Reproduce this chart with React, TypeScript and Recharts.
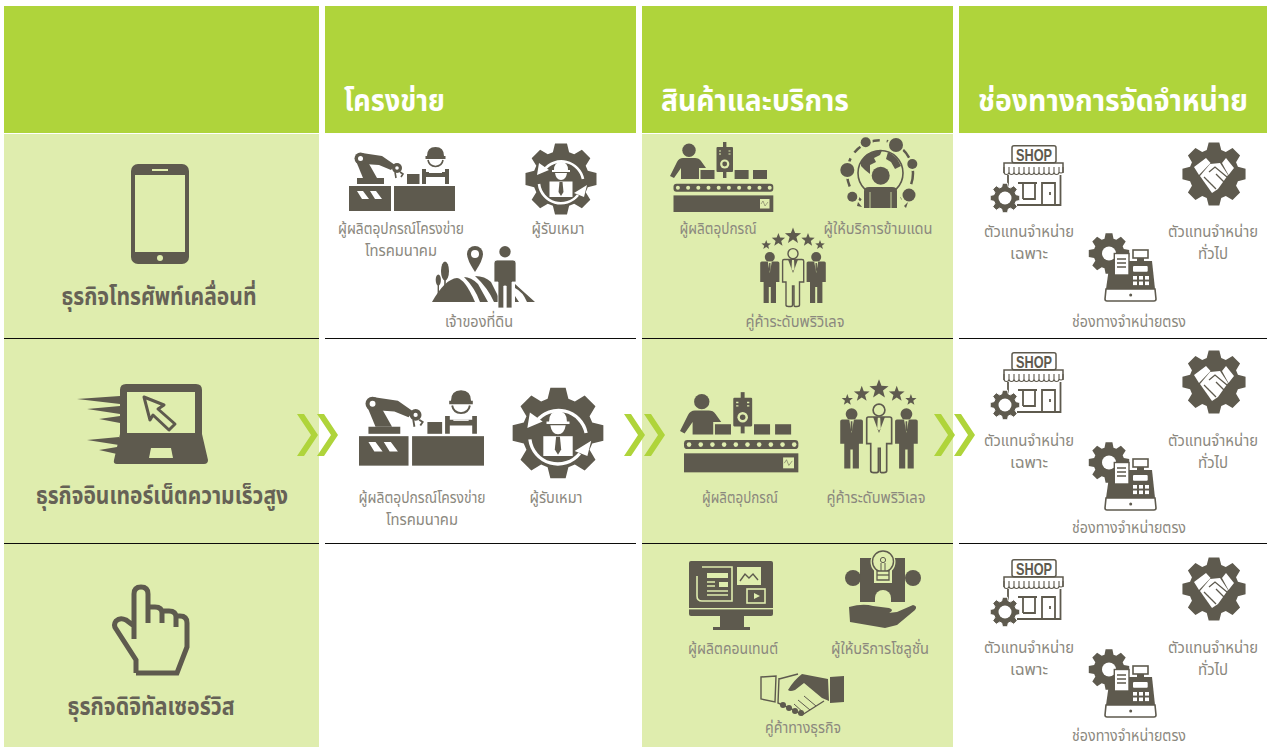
import { ReferenceArea, ReferenceLine, Scatter, ScatterChart, XAxis, YAxis } from "recharts";

const columnTitles = ["โครงข่าย", "สินค้าและบริการ", "ช่องทางการจัดจำหน่าย"];
const businessTitles = ["ธุรกิจโทรศัพท์เคลื่อนที่", "ธุรกิจอินเทอร์เน็ตความเร็วสูง", "ธุรกิจดิจิทัลเซอร์วิส"];
const networkLabels = ["ผู้ผลิตอุปกรณ์โครงข่าย", "โทรคมนาคม", "ผู้รับเหมา", "เจ้าของที่ดิน"];
const productLabels = ["ผู้ผลิตอุปกรณ์", "ผู้ให้บริการข้ามแดน", "คู่ค้าระดับพริวิเลจ", "ผู้ผลิตคอนเทนต์", "ผู้ให้บริการโซลูชั่น", "คู่ค้าทางธุรกิจ"];
const channelLabels = ["ตัวแทนจำหน่าย", "เฉพาะ", "ทั่วไป", "ช่องทางจำหน่ายตรง"];

const W = 1267;
const H = 747;
const DARK = "#5E5A4E";
const GREEN = "#AFD43B";
const LIGHT = "#DFEDAE";
const GREY = "#8B887E";

const columns = [[4, 319], [325, 636], [642, 953], [959, 1267]];
const bgAt = (x: number) => ((x < 320 || (x > 640 && x < 954)) ? LIGHT : "#FFFFFF");

const gearPath = (cx: number, cy: number, R: number, r: number, n: number) => {
  const pts: string[] = [];
  const step = (Math.PI * 2) / n;
  for (let i = 0; i < n; i++) {
    const a = i * step - Math.PI / 2;
    [[-0.3, r], [-0.17, R], [0.17, R], [0.3, r]].forEach(([o, rad]) => {
      pts.push(`${cx + rad * Math.cos(a + o * step * 1.25)} ${cy + rad * Math.sin(a + o * step * 1.25)}`);
    });
  }
  return `M${pts.join("L")}Z`;
};

const starPath = (cx: number, cy: number, r: number) => {
  const pts: string[] = [];
  for (let i = 0; i < 10; i++) {
    const a = (i * Math.PI) / 5 - Math.PI / 2;
    const rad = i % 2 ? r * 0.42 : r;
    pts.push(`${cx + rad * Math.cos(a)} ${cy + rad * Math.sin(a)}`);
  }
  return `M${pts.join("L")}Z`;
};

const iconArt: Record<string, { w: number; draw: (bg: string) => any }> = {
  phone: {
    w: 58,
    draw: (bg) => (
      <g>
        <rect width={58} height={100} rx={7} fill={DARK} />
        <rect x={4} y={11} width={50} height={77} fill={bg} />
        <rect x={21} y={5} width={16} height={2} fill={bg} />
        <circle cx={29} cy={94} r={3} fill={bg} />
      </g>
    ),
  },
  laptop: {
    w: 131,
    draw: (bg) => (
      <g>
        <path d="M43 6Q43 0 49 0H119Q125 0 125 6V50L131 76Q131 80 127 80H40Q36 80 37 76L43 50Z" fill={DARK} />
        <rect x={50} y={8} width={68} height={41} fill={bg} />
        <path d="M74 64H94L96 74H72Z" fill={bg} />
        <path d="M0 15L43 12V20ZM10 25L43 22V30ZM22 35L43 32V39ZM10 56L42 53V61ZM22 66L40 63V70Z" fill={DARK} />
        <path d="M67 13L87 21L81 25L98 40L92 46L76 31L73 36Z" fill={bg} stroke={DARK} strokeWidth={3} strokeLinejoin="round" />
      </g>
    ),
  },
  hand: {
    w: 77,
    draw: () => (
      <path
        d="M24 88L65 88L75 62V38Q75 31 68 31H64M64 42V32Q64 26 57 26H50M50 38V28Q50 22 43 22H36M36 38V9Q36 2 29 2Q22 2 22 9V54M22 41L14 35Q8 32 4 36Q1 40 4 44L24 75V88"
        fill="none"
        stroke={DARK}
        strokeWidth={5}
      />
    ),
  },
  robot: {
    w: 106,
    draw: (bg) => (
      <g>
        <rect y={40} width={42} height={25} fill={DARK} />
        <rect x={45} y={40} width={61} height={25} fill={DARK} />
        <path d="M8 45H14L20 53H13ZM21 45H27L33 53H26Z" fill={bg} />
        <rect x={8} y={32} width={27} height={6} fill={DARK} />
        <path d="M14 32L7 15L15 9L28 32Z" fill={DARK} />
        <path d="M13 7L33 10L46 19L42 24L30 19L15 18Z" fill={DARK} />
        <circle cx={11.5} cy={12.5} r={6} fill={DARK} />
        <circle cx={11.5} cy={12.5} r={2.5} fill={bg} />
        <circle cx={48} cy={22} r={5} fill={DARK} />
        <circle cx={48} cy={22} r={1.8} fill={bg} />
        <path d="M46 26L47 32M51 26L54 28L52 31" fill="none" stroke={DARK} strokeWidth={1.6} />
        <rect x={58} y={28} width={12.5} height={10} fill={DARK} />
        <path d="M78 10Q78 1 86.5 1Q95 1 95 10H96.5V13H76.5V10Z" fill={DARK} />
        <path d="M79 14Q80 20 86.5 20.5Q93 20 94 14" fill="none" stroke={DARK} strokeWidth={1.6} />
        <path d="M73 23H77V26H96V23H100V38H96V31H77V38H73Z" fill={DARK} />
        <rect x={80} y={26} width={13} height={1} fill={bg} />
      </g>
    ),
  },
  contractor: {
    w: 72,
    draw: (bg) => (
      <g>
        <path d={gearPath(36, 36, 36, 28, 8)} fill={DARK} />
        <path d="M19 27A22 22 0 0 1 58 36M14 41A22 22 0 0 0 53 52" fill="none" stroke={bg} strokeWidth={2.6} />
        <path d="M12 32L14 20L24 27ZM62 42L59 54L49 50Z" fill={bg} />
        <path d="M29 27Q29 19 36 19Q43 19 43 27H45V29H27V27Z" fill={bg} />
        <path d="M30 30H42Q41 37 36 37Q31 37 30 30Z" fill={bg} />
        <rect x={24.5} y={38.5} width={23} height={15.5} fill={bg} />
        <path d="M34.5 39H37.5L38.5 49L36 53L33.5 49Z" fill={DARK} />
      </g>
    ),
  },
  land: {
    w: 104,
    draw: (bg) => (
      <g>
        <path d="M1 56Q14 33 26 32Q34 33 44 56Z" fill={DARK} />
        <path d="M33 31Q40 31 47 38L57 56H49Q44 42 33 31Z" fill={DARK} />
        <path d="M44 30Q54 30 60 36L70 56H63Q57 42 44 30Z" fill={DARK} />
        <path d="M84 38L104 56H96Q92 46 84 42ZM84 50L88 56H84Z" fill={DARK} />
        <ellipse cx={14} cy={25} rx={4} ry={9.5} fill={DARK} />
        <rect x={13.2} y={30} width={1.6} height={15} fill={DARK} />
        <ellipse cx={7.3} cy={34} rx={2.6} ry={5.5} fill={DARK} />
        <rect x={6.6} y={36} width={1.4} height={13} fill={DARK} />
        <path d="M44 0A8 8 0 0 1 52 8Q52 14 44 26Q36 14 36 8A8 8 0 0 1 44 0Z" fill={DARK} />
        <circle cx={44} cy={8} r={4} fill={bg} />
        <circle cx={74} cy={5.7} r={5.7} fill={DARK} />
        <path d="M63 17Q63 14 66 14H82Q85 14 85 17V36H81V62H75.2V40H72.8V62H67V36H63Z" fill={DARK} stroke={bg} strokeWidth={0.8} />
      </g>
    ),
  },
  maker: {
    w: 103,
    draw: (bg) => (
      <g>
        <circle cx={19} cy={9.3} r={6.7} fill={DARK} />
        <path d="M0 35L7 21Q9 17 13 17H25Q29 17 31 20L36 27H29V38H11V27L4 37Z" fill={DARK} />
        <rect x={53} y={1} width={3.4} height={36} fill={DARK} />
        <rect x={46.5} y={6} width={16.5} height={25} rx={1} fill={DARK} />
        <circle cx={54.7} cy={23} r={4.6} fill={bg} />
        <circle cx={54.7} cy={23} r={2.4} fill={DARK} />
        <path d="M49 10H51M58.5 10H60.5M49 13H51M58.5 13H60.5" stroke={bg} strokeWidth={1.2} />
        <rect x={30.5} y={29} width={14} height={9} fill={DARK} />
        <rect x={64.6} y={29} width={14} height={9} fill={DARK} />
        <rect x={83} y={29} width={14} height={9} fill={DARK} />
        <rect x={3.5} y={42.7} width={99.8} height={8} rx={3} fill={DARK} />
        {[0, 1, 2, 3, 4, 5, 6, 7, 8, 9].map((i) => <circle key={i} cx={7.9 + i * 10.2} cy={46.8} r={2} fill={bg} />)}
        <rect x={3.5} y={54.4} width={99.8} height={16.6} fill={DARK} />
        <rect x={90} y={58} width={9.5} height={9.5} fill={bg} />
        <path d="M91 63L93 60L95 65L98 61" fill="none" stroke={DARK} strokeWidth={0.5} />
      </g>
    ),
  },
  globe: {
    w: 77,
    draw: (bg) => (
      <g>
        <circle cx={40} cy={35.3} r={33} fill="none" stroke={DARK} strokeWidth={2.5} strokeDasharray="11 7" />
        {[[25.7, 4.3, 5], [56, 7, 7], [72.3, 26, 5], [7.3, 32, 7], [69, 57, 6.5], [12.3, 58.7, 5]].map(([x, y, r]) => (
          <g key={x}>
            <circle cx={x} cy={y} r={r + 2} fill={bg} />
            <circle cx={x} cy={y} r={r} fill={DARK} />
          </g>
        ))}
        <path d="M64 68L68 64L66 70ZM18 64L22 69L17 68Z" fill={DARK} />
        <circle cx={40.5} cy={35} r={22.5} fill={bg} stroke={DARK} strokeWidth={1.6} />
        <path d="M21 23Q28 12 42 12.5L40 17L34 20L36 24L30 27L30 36L25 32L21 28ZM48 14Q57 18 61 28L55 31L51 24L46 21Z" fill={DARK} />
        <circle cx={40.7} cy={37.7} r={11} fill={bg} />
        <circle cx={40.7} cy={37.7} r={9} fill={DARK} />
        <path d="M24 53Q24 49 29 49H52Q57 49 57 53V70H24Z" fill={DARK} />
        <path d="M30 54V70M51 54V70" stroke={bg} strokeWidth={0.8} />
      </g>
    ),
  },
  privilege: {
    w: 66,
    draw: (bg) => (
      <g>
        {[[6.2, 16, 5], [18.4, 11, 7], [33, 7, 8.5], [48, 11, 7], [60, 16, 5]].map(([x, y, r]) => (
          <path key={x} d={starPath(x, y, r)} fill={DARK} />
        ))}
        {[9.8, 56.2].map((x) => (
          <g key={x}>
            <circle cx={x} cy={28} r={5} fill={DARK} />
            <path d={`M${x - 9.6} 34Q${x - 9.6} 32.5 ${x - 8} 32.5H${x + 8}Q${x + 9.6} 32.5 ${x + 9.6} 34V53H${x + 6.2}V74H${x + 1}V58H${x - 1}V74H${x - 6.2}V53H${x - 9.6}Z`} fill={DARK} />
            <path d={`M${x - 2} 32.5H${x + 2}L${x} 44Z`} fill={bg} />
            <path d={`M${x - 0.7} 34H${x + 0.7}L${x + 0.8} 41L${x} 43L${x - 0.8} 41Z`} fill={DARK} />
          </g>
        ))}
        <circle cx={33} cy={24.6} r={5} fill={bg} stroke={DARK} strokeWidth={1.4} />
        <path d="M22.6 32Q22.6 30.5 24 30.5H42Q43.7 30.5 43.7 32V53H39.5V76Q39.5 77.5 37 77.5H35Q34 77.5 34 76V57H32.5V76Q32.5 77.5 31 77.5H28.5Q26 77.5 26 76V53H22.6Z" fill={bg} stroke={DARK} strokeWidth={1.4} />
        <path d="M28 30.5H38L33 44Z" fill={DARK} />
        <path d="M32 31H34L34.5 40L33 42L31.5 40Z" fill={bg} />
      </g>
    ),
  },
  shop: {
    w: 74,
    draw: (bg) => (
      <g fill="none" stroke={DARK} strokeWidth={1.5}>
        <rect x={22} y={0.8} width={44} height={17} rx={2} />
        <text x={44} y={15.5} textAnchor="middle" fontFamily="Liberation Sans Narrow, Liberation Sans" fontSize={17} fontWeight={700} fill={DARK} stroke="none" textLength={36} lengthAdjust="spacingAndGlyphs">SHOP</text>
        <path d="M14 28V18H73V28" strokeWidth={1.5} />
        <path d="M14 22V27A2.4 2.4 0 0 0 19 27V22M19 27A2.4 2.4 0 0 0 24 27V22M24 27A2.4 2.4 0 0 0 29 27V22M29 27A2.4 2.4 0 0 0 34 27V22M34 27A2.4 2.4 0 0 0 39 27V22M39 27A2.4 2.4 0 0 0 44 27V22M44 27A2.4 2.4 0 0 0 49 27V22M49 27A2.4 2.4 0 0 0 54 27V22M54 27A2.4 2.4 0 0 0 59 27V22M59 27A2.4 2.4 0 0 0 64 27V22M64 27A2.4 2.4 0 0 0 69 27V22M69 27A2.4 2.4 0 0 0 73 27V22" strokeWidth={1.1} />
        <path d="M18 30V44M70.5 30V60H27M28 38H47M45 38V54H33M33 38V54" strokeWidth={1.8} />
        <path d="M52 60V38H65V60M60 47V50" strokeWidth={1.8} />
        <path d={gearPath(15, 53, 15, 11.5, 8)} fill={DARK} stroke={bg} strokeWidth={1} />
        <circle cx={15} cy={53} r={6.5} fill={bg} stroke="none" />
      </g>
    ),
  },
  dealGear: {
    w: 64,
    draw: (bg) => (
      <g>
        <path d={gearPath(32, 31, 32, 25, 8)} fill={DARK} />
        <path d="M12 24L24 15L28.6 20L17 32ZM40 20L44 15L52 25L46.5 32Z" fill={bg} />
        <path d="M18 33L28 21L38 20L46 32L36 46L30 50Z" fill={bg} />
        <path d="M27 29L33 24L45 34M22 34L27 39M26 38L31 43M30 42L34 46M34 31L42 39" fill="none" stroke={DARK} strokeWidth={1.3} />
      </g>
    ),
  },
  register: {
    w: 68,
    draw: (bg) => (
      <g>
        <path d={gearPath(20, 20.5, 20.5, 15.5, 8)} fill={DARK} />
        <circle cx={20} cy={20.5} r={7} fill={bg} />
        <rect x={44} y={17} width={15} height={8} fill={bg} stroke={DARK} strokeWidth={1.6} />
        <rect x={48} y={25} width={7} height={3} fill={DARK} />
        <path d="M21 28H63L66 56H17Z" fill={DARK} />
        <path d="M17 56H66L67 66Q67 68 65 68H18Q16 68 16 66Z" fill={bg} stroke={DARK} strokeWidth={1.6} />
        <rect x={25.3} y={20.5} width={14.7} height={21.5} fill={bg} stroke={DARK} strokeWidth={1.4} />
        <path d="M28 26H37M28 30H37M28 34H37" stroke={DARK} strokeWidth={1.6} />
        <rect x={44} y={33} width={14.7} height={5.7} rx={1} fill={bg} />
        {[0, 1, 2].map((c) => [0, 1].map((r) => <rect key={`${c}${r}`} x={44 + c * 6} y={43 + r * 5.5} width={4} height={3.6} fill={bg} />))}
        <circle cx={41.7} cy={62} r={1.5} fill={DARK} />
      </g>
    ),
  },
  content: {
    w: 84,
    draw: (bg) => (
      <g>
        <rect width={84} height={55} rx={2} fill={DARK} />
        <rect y={47} width={84} height={1.4} fill={bg} />
        <rect x={31} y={55} width={24} height={11} fill={DARK} />
        <rect x={24} y={66} width={37} height={3} fill={DARK} />
        <path d="M13 6H43V40H13Q8 40 8 35V15" fill="none" stroke={bg} strokeWidth={1.6} />
        <rect x={18} y={12} width={21} height={5} fill={bg} />
        <path d="M18 21H26M18 25H26M18 30H39M18 34H39" stroke={bg} strokeWidth={1.4} />
        <rect x={30} y={21} width={9} height={5} fill={bg} />
        <rect x={48} y={6} width={24} height={18} fill={bg} />
        <path d="M51 20L56 13L60 17L64 13L69 19" fill="none" stroke={DARK} strokeWidth={1.4} />
        <rect x={58} y={28} width={18} height={14} fill="none" stroke={bg} strokeWidth={1.6} />
        <path d="M65 32L71 35L65 38Z" fill={bg} />
      </g>
    ),
  },
  solution: {
    w: 75,
    draw: (bg) => (
      <g>
        <rect x={15} y={8} width={45} height={44} fill={DARK} />
        <circle cx={8} cy={28} r={8} fill={DARK} />
        <circle cx={68} cy={28} r={8} fill={DARK} />
        <circle cx={38} cy={48} r={8} fill={bg} />
        <rect x={30} y={48} width={16} height={5} fill={bg} />
        <circle cx={38} cy={12} r={12.5} fill={bg} />
        <rect x={29} y={18} width={18} height={15} fill={bg} />
        <circle cx={38} cy={11.5} r={10.5} fill={bg} stroke={DARK} strokeWidth={1.4} />
        <circle cx={38} cy={10} r={2.6} fill="none" stroke={DARK} strokeWidth={1} />
        <path d="M36 13V21M40 13V21" stroke={DARK} strokeWidth={1} />
        <path d="M32 21H44V30H32Z" fill={bg} stroke={DARK} strokeWidth={1.3} />
        <path d="M32 25H44" stroke={DARK} strokeWidth={1.3} />
        <path d="M4 57Q18 53 28 56L44 58Q50 60 44 63L34 64L52 62L68 55Q73 56 70 60L52 75L40 78L5 72Z" fill={DARK} />
      </g>
    ),
  },
  deal: {
    w: 85,
    draw: (bg) => (
      <g>
        <path d="M1 5L16 4L15 30L1 27Z" fill={bg} stroke={DARK} strokeWidth={1.4} />
        <path d="M70 5L84 4V30L70 31Z" fill={DARK} />
        <path d="M19 7L38 2M19 6L18 31L34 38L42 43L64 29" fill="none" stroke={DARK} strokeWidth={1.4} />
        <path d="M28 18Q34 8 42 2L68 7L69 29L62 26L44 11L35 18Q30 20 28 18Z" fill={DARK} />
        {[[23, 33], [29, 36], [35, 39], [41, 41]].map(([x, y]) => <circle key={x} cx={x} cy={y} r={3} fill={DARK} />)}
        <path d="M44 24L56 34M38 28L50 38M34 32L44 41" fill="none" stroke={DARK} strokeWidth={1} />
      </g>
    ),
  },
};

// where each pictogram sits in the table, in image pixels
const iconSpots: [string, number, number, number][] = [
  ["phone", 131, 164, 58], ["laptop", 77, 384, 131], ["hand", 112, 585, 77],
  ["robot", 349, 146, 106], ["contractor", 525, 143, 72], ["land", 431, 246, 104],
  ["robot", 359, 389, 125], ["contractor", 512, 387, 92],
  ["maker", 670, 141, 103], ["globe", 840, 138, 77], ["privilege", 760, 229, 66],
  ["maker", 680, 391, 118], ["privilege", 840, 381, 78],
  ["content", 689, 561, 84], ["solution", 845, 550, 75], ["deal", 760, 672, 85],
  ["shop", 990, 145, 74], ["dealGear", 1182, 143, 64], ["register", 1089, 233, 68],
  ["shop", 990, 352, 74], ["dealGear", 1182, 351, 64], ["register", 1089, 442, 68],
  ["shop", 990, 559, 74], ["dealGear", 1182, 558, 64], ["register", 1089, 649, 68],
];

const [netMaker, netTelecom, netContractor, netLand] = networkLabels;
const [prodMaker, prodCross, prodPrivilege, prodContent, prodSolution, prodPartner] = productLabels;
const [chanAgent, chanExclusive, chanGeneral, chanDirect] = channelLabels;

// text, centre x, baseline y, measured width
const labelSpots: [string, number, number, number][] = [
  [netMaker, 401, 234, 126], [netTelecom, 401, 256, 72], [netContractor, 558, 234, 53], [netLand, 479, 327, 68],
  [netMaker, 422, 503, 127], [netTelecom, 422, 525, 72], [netContractor, 556, 503, 53],
  [prodMaker, 718, 234, 77], [prodCross, 878, 234, 109], [prodPrivilege, 795, 327, 99],
  [prodMaker, 740, 503, 76], [prodPrivilege, 876, 503, 99],
  [prodContent, 733, 654, 90], [prodSolution, 880, 654, 98], [prodPartner, 803, 733, 76],
  [chanAgent, 1029, 237, 90], [chanExclusive, 1029, 259, 38], [chanAgent, 1213, 237, 90], [chanGeneral, 1213, 259, 30], [chanDirect, 1129, 327, 114],
  [chanAgent, 1029, 446, 90], [chanExclusive, 1029, 468, 38], [chanAgent, 1213, 446, 90], [chanGeneral, 1213, 468, 30], [chanDirect, 1129, 533, 114],
  [chanAgent, 1029, 653, 90], [chanExclusive, 1029, 675, 38], [chanAgent, 1213, 653, 90], [chanGeneral, 1213, 675, 30], [chanDirect, 1129, 741, 114],
];

const titleSpots = [[159, 305, 195], [162, 504, 252], [151, 715, 167]];
const headerSpots = [[344, 111, 101], [661, 111, 188], [978, 111, 270]];
const chevronSpots = [[297, 414], [624, 414], [934, 414]];

const iconData = iconSpots.map(([icon, x, y, w]) => ({ icon, x, y, w }));
const labelData = labelSpots.map(([text, x, y, w]) => ({ text, x, y, w }));
const titleData = businessTitles.map((text, i) => ({ text, x: titleSpots[i][0], y: titleSpots[i][1], w: titleSpots[i][2] }));
const headerData = columnTitles.map((text, i) => ({ text, x: headerSpots[i][0], y: headerSpots[i][1], w: headerSpots[i][2] }));
const chevronData = chevronSpots.map(([x, y]) => ({ x, y }));

const THAI = "'Noto Sans Thai', 'Noto Sans', 'DejaVu Sans', sans-serif";

const IconShape = ({ cx, cy, payload }: any) => {
  const art = iconArt[payload.icon];
  return (
    <g transform={`translate(${cx} ${cy}) scale(${payload.w / art.w})`}>
      {art.draw(bgAt(payload.x))}
    </g>
  );
};

const textShape = (fill: string, fontSize: number, fontWeight: number, anchor: "middle" | "start") => ({ cx, cy, payload }: any) => (
  <text x={cx} y={cy} fill={fill} fontSize={fontSize} fontWeight={fontWeight} fontFamily={THAI} textAnchor={anchor} textLength={payload.w} lengthAdjust="spacingAndGlyphs">
    {payload.text}
  </text>
);

const ChevronShape = ({ cx, cy }: any) => (
  <g transform={`translate(${cx} ${cy})`} fill={GREEN}>
    <path d="M0 0H7L21 21L7 42H0L14 21Z" />
    <path d="M20 0H27L41 21L27 42H20L34 21Z" />
  </g>
);

export default function App() {
  return (
    <div style={{ position: "absolute", left: 0, top: 0 }}>
      <ScatterChart width={W} height={H} margin={{ top: 0, right: 0, bottom: 0, left: 0 }}>
        <XAxis type="number" dataKey="x" domain={[0, W]} hide />
        <YAxis type="number" dataKey="y" domain={[0, H]} reversed hide />
        {columns.map(([x1, x2]) => (
          <ReferenceArea key={x1} x1={x1} x2={x2} y1={6} y2={133} fill={GREEN} fillOpacity={1} stroke="none" />
        ))}
        {[columns[0], columns[2]].map(([x1, x2]) => (
          <ReferenceArea key={x1} x1={x1} x2={x2} y1={134} y2={H} fill={LIGHT} fillOpacity={1} stroke="none" />
        ))}
        {[338.5, 543.5].map((y) =>
          columns.map(([x1, x2]) => (
            <ReferenceLine key={`${y}-${x1}`} segment={[{ x: x1, y }, { x: x2, y }]} stroke="#0C0C0A" strokeWidth={1.2} />
          ))
        )}
        <Scatter data={chevronData} shape={ChevronShape} isAnimationActive={false} />
        <Scatter data={iconData} shape={IconShape} isAnimationActive={false} />
        <Scatter data={labelData} shape={textShape(GREY, 16, 400, "middle")} isAnimationActive={false} />
        <Scatter data={titleData} shape={textShape("#666256", 24, 700, "middle")} isAnimationActive={false} />
        <Scatter data={headerData} shape={textShape("#FFFFFF", 30, 700, "start")} isAnimationActive={false} />
      </ScatterChart>
    </div>
  );
}
